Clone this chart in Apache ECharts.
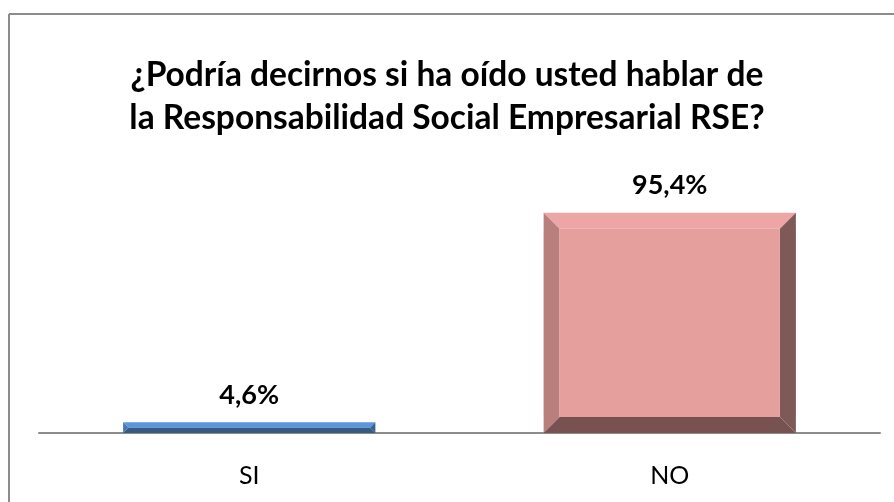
<!DOCTYPE html>
<html>
<head>
<meta charset="utf-8">
<script src="https://cdn.jsdelivr.net/npm/echarts@6/dist/echarts.min.js"></script>
<style>
  html, body { margin: 0; padding: 0; background: #fff; }
  #chart { width: 894px; height: 502px; }
</style>
</head>
<body>
<div id="chart"></div>
<script>
var categories = ["SI", "NO"];
var values = [4.6, 95.4];
var faceColors = ["#4F86CC", "#E5A09E"];
var topColors = ["#5B95DC", "#EDA6A5"];
var leftColors = ["#4677B4", "#B97F7D"];
var rightColors = ["#3A6190", "#7F5958"];
var bottomColors = ["#375A85", "#775250"];

var myChart = echarts.init(document.getElementById("chart"));

function bevelBar(params, api) {
    var idx = params.dataIndex;
    var v = api.value(1);
    var top = api.coord([api.value(0), v]);
    var bot = api.coord([api.value(0), 0]);
    var bw = api.size([1, 0])[0] * 0.6;
    var x0 = top[0] - bw / 2, x1 = top[0] + bw / 2;
    var y0 = top[1], y1 = bot[1];
    var b = Math.min(16, (y1 - y0) / 2);
    var label = v.toFixed(1).replace(".", ",") + "%";
    return {
        type: "group",
        children: [
            { type: "polygon", shape: { points: [[x0, y0], [x1, y0], [x1 - b, y0 + b], [x0 + b, y0 + b]] }, style: { fill: topColors[idx] } },
            { type: "polygon", shape: { points: [[x0, y0], [x0 + b, y0 + b], [x0 + b, y1 - b], [x0, y1]] }, style: { fill: leftColors[idx] } },
            { type: "polygon", shape: { points: [[x1, y0], [x1, y1], [x1 - b, y1 - b], [x1 - b, y0 + b]] }, style: { fill: rightColors[idx] } },
            { type: "polygon", shape: { points: [[x0, y1], [x0 + b, y1 - b], [x1 - b, y1 - b], [x1, y1]] }, style: { fill: bottomColors[idx] } },
            { type: "rect", shape: { x: x0 + b, y: y0 + b, width: bw - 2 * b, height: Math.max(0, y1 - y0 - 2 * b) }, style: { fill: faceColors[idx] } },
            { type: "text", x: top[0], y: y0 - 27, style: { text: label, fill: "#000", font: "bold 27px Lato, 'Open Sans', sans-serif", align: "center", verticalAlign: "middle" } }
        ]
    };
}

var option = {
    animation: false,
    title: {
        text: "¿Podría decirnos si ha oído usted hablar de\nla Responsabilidad Social Empresarial RSE?",
        left: "center",
        top: 49,
        textStyle: { fontFamily: "Lato", fontWeight: "bold", fontSize: 33.5, lineHeight: 43, color: "#000" }
    },
    graphic: [
        { type: "line", shape: { x1: 9, y1: 14, x2: 894, y2: 14 }, style: { stroke: "#8C8C8C", lineWidth: 2 } },
        { type: "line", shape: { x1: 9, y1: 14, x2: 9, y2: 502 }, style: { stroke: "#8C8C8C", lineWidth: 2 } }
    ],
    grid: { left: 39, right: 14, top: 202, bottom: 69 },
    xAxis: {
        type: "category",
        data: categories,
        axisLine: { lineStyle: { color: "#8C8C8C", width: 2 } },
        axisTick: { show: false },
        axisLabel: { color: "#000", fontSize: 25, fontFamily: "Lato", margin: 30 }
    },
    yAxis: {
        type: "value",
        min: 0,
        max: 100,
        show: false
    },
    series: [{
        type: "custom",
        renderItem: bevelBar,
        data: values.map(function (v, i) { return [i, v]; })
    }]
};
myChart.setOption(option);
</script>
</body>
</html>
